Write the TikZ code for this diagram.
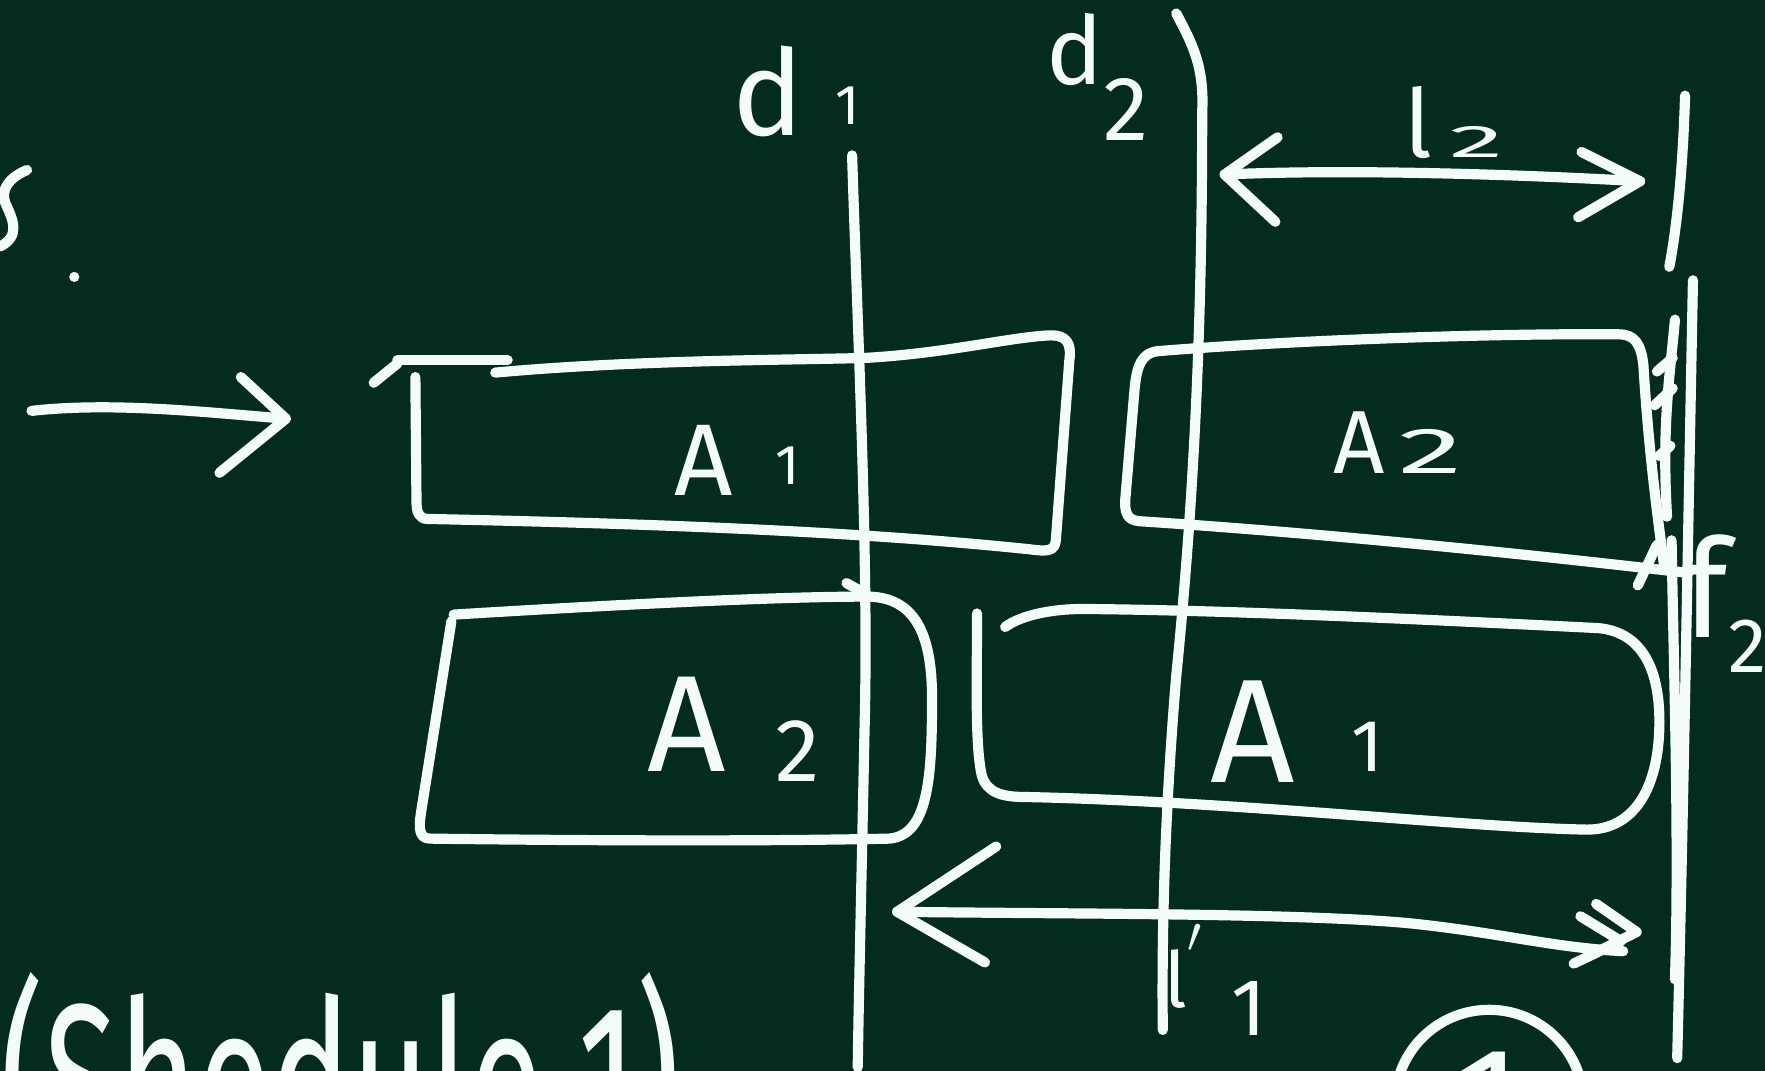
\documentclass[tikz,border=0pt]{standalone}
\usepackage{fontspec}
\setmainfont{Fira Sans}
\usepackage{graphicx}
\definecolor{board}{RGB}{4,43,32}
\definecolor{chalkc}{RGB}{244,252,250}
\tikzset{
  chalk/.style={draw=chalkc, line width=2.9pt, line cap=round, line join=round},
  lbl/.style={text=chalkc, inner sep=0pt, anchor=base},
}
\newcommand\fs[2]{{\fontsize{#1}{#1}\selectfont #2}}
\begin{document}
\begin{tikzpicture}[x=0.011256cm, y=-0.011256cm]
\fill[board] (0,0) rectangle (1568,951);
\useasboundingbox (0,0) rectangle (1568,951);
\clip (0,0) rectangle (1568,951);

% partial "s" and dot at left edge
\draw[chalk] (24,151) .. controls (8,158) and (0,168) .. (5,181) .. controls (12,196) and (18,210) .. (0,219);
\fill[chalkc] (66,246) circle (4.5);

% left arrow
\coordinate (arrS) at (28,365);
\coordinate (arrE) at (254,372);
\draw[chalk] (arrS) .. controls (100,357) and (180,366) .. (arrE);
\draw[chalk] (214,335) -- (arrE) -- (195,420);

% vertical lines
\coordinate (d1t) at (757,138);
\coordinate (d1b) at (762,948);
\draw[chalk] (d1t) .. controls (762,300) and (772,500) .. (768,650) .. controls (765,800) and (763,880) .. (d1b);
\coordinate (d2t) at (1045,12);
\coordinate (d2b) at (1033,915);
\draw[chalk] (d2t) .. controls (1060,40) and (1070,60) .. (1068,100) .. controls (1068,300) and (1060,450) .. (1045,600) .. controls (1035,720) and (1032,820) .. (d2b);
\coordinate (l2t) at (1497,85);
\coordinate (l2b) at (1483,237);
\draw[chalk] (l2t) .. controls (1495,150) and (1490,200) .. (l2b);
% f2 line (several strokes)
\coordinate (f2t) at (1504,249);
\coordinate (f2b) at (1490,940);
\draw[chalk] (f2t) .. controls (1500,450) and (1496,700) .. (f2b);
\draw[chalk] (1488,284) .. controls (1484,330) and (1476,376) .. (1481,459);
\draw[chalk] (1472,330) -- (1486,318);
\draw[chalk] (1470,360) -- (1486,345);
\draw[chalk] (1474,405) -- (1484,396);
\draw[chalk] (1485,480) .. controls (1487,600) and (1492,750) .. (1488,870);

% box A1 (top left)
\draw[chalk] (332,340) -- (353,323);
\draw[chalk] (353,320) -- (451,320);
\draw[chalk] (440,331) .. controls (560,320) and (690,320) .. (768,318) .. controls (840,314) and (895,300) .. (931,298) .. controls (948,297) and (952,305) .. (950,320) -- (938,480) .. controls (937,490) and (930,490) .. (915,488) .. controls (780,474) and (620,466) .. (380,461) .. controls (372,461) and (370,455) .. (370,445) -- (369,335);

% box A2 (top right)
\draw[chalk] (1028,312) .. controls (1150,302) and (1330,296) .. (1438,297) .. controls (1452,297) and (1458,305) .. (1460,325) .. controls (1464,390) and (1470,440) .. (1478,500);
\draw[chalk] (1028,312) .. controls (1014,314) and (1010,325) .. (1008,345) -- (1000,440) .. controls (998,458) and (1003,462) .. (1012,463) .. controls (1150,472) and (1320,488) .. (1500,509);
\draw[chalk] (1455,520) -- (1472,484);

% box A2 (bottom left)
\draw[chalk] (403,546) .. controls (550,537) and (690,530) .. (770,530) .. controls (812,530) and (828,562) .. (828,620) .. controls (828,690) and (825,742) .. (790,745) .. controls (650,748) and (460,746) .. (382,745) .. controls (372,745) and (372,735) .. (374,722) -- (401,552);
\draw[chalk] (752,518) -- (770,528);

% box A1 (bottom right)
\draw[chalk] (868,545) .. controls (868,600) and (866,660) .. (872,688) .. controls (876,704) and (890,708) .. (910,708) .. controls (1100,712) and (1300,735) .. (1410,737) .. controls (1452,737) and (1472,700) .. (1474,650) .. controls (1476,600) and (1462,562) .. (1420,558) .. controls (1300,552) and (1100,542) .. (962,541) .. controls (930,541) and (905,548) .. (893,557);

% l2 arrow
\coordinate (l2L) at (1088,155);
\coordinate (l2R) at (1457,161);
\draw[chalk] (l2L) .. controls (1200,150) and (1350,155) .. (l2R);
\draw[chalk] (1135,122) -- (l2L) -- (1133,197);
\draw[chalk] (1405,135) -- (l2R) -- (1402,193);

% l1' arrow
\coordinate (l1L) at (797,810);
\coordinate (l1R) at (1442,845);
\draw[chalk] (l1L) .. controls (950,812) and (1150,811) .. (1250,820) .. controls (1330,828) and (1380,842) .. (l1R);
\draw[chalk] (885,752) -- (l1L) -- (875,855);
\draw[chalk] (1418,803) -- (1454,828) -- (1410,850);
\draw[chalk] (1404,814) -- (1440,836) -- (1398,856);

% labels
\node[lbl, font=\fontsize{34}{34}\selectfont] (d1) at (707,120) {d\hspace{9pt}\raisebox{3pt}{\fs{16}{1}}};
\node[lbl, font=\fontsize{27}{27}\selectfont] (d2) at (975,75) {d\raisebox{-16pt}{\fs{26}{2}}};
\node[lbl, font=\fontsize{27}{27}\selectfont] (l2) at (1292,140) {l\hspace{5pt}\scalebox{2.4}[1]{\fs{13}{2}}};
\node[lbl, font=\fontsize{29}{29}\selectfont] (A1a) at (655,440) {A\hspace{12pt}\raisebox{3pt}{\fs{16}{1}}};
\node[lbl, font=\fontsize{25.5}{25.5}\selectfont] (A2a) at (1242,421) {A\hspace{4pt}\scalebox{2}[1]{\fs{18.5}{2}}};
\node[lbl, font=\fontsize{39}{39}\selectfont] (A2b) at (652,685) {A\hspace{14pt}\raisebox{-3pt}{\fs{25.5}{2}}};
\node[lbl, font=\fontsize{42}{42}\selectfont] (A1b) at (1152,695) {A\hspace{16pt}\raisebox{3pt}{\fs{21}{1}}};
\node[lbl, font=\fontsize{39}{39}\selectfont] (f2) at (1532,566) {f\raisebox{-10pt}{\fs{22}{2}}};
\node[lbl, font=\fontsize{22}{22}\selectfont] (l1p) at (1080,895) {l\raisebox{8pt}{$'$}\hspace{8pt}\raisebox{-8pt}{\fs{23}{1}}};
\node[text=chalkc, inner sep=0pt, anchor=base west, font=\fontsize{62}{62}\selectfont] (sched) at (0,1027) {\scalebox{0.62}[1]{(Shedule 1)}};
\node[circle, draw=chalkc, line width=2.9pt, minimum size=1.89cm, inner sep=0pt, text=chalkc, font=\fontsize{44}{44}\selectfont] (circ) at (1323,981) {1};
\end{tikzpicture}
\end{document}
